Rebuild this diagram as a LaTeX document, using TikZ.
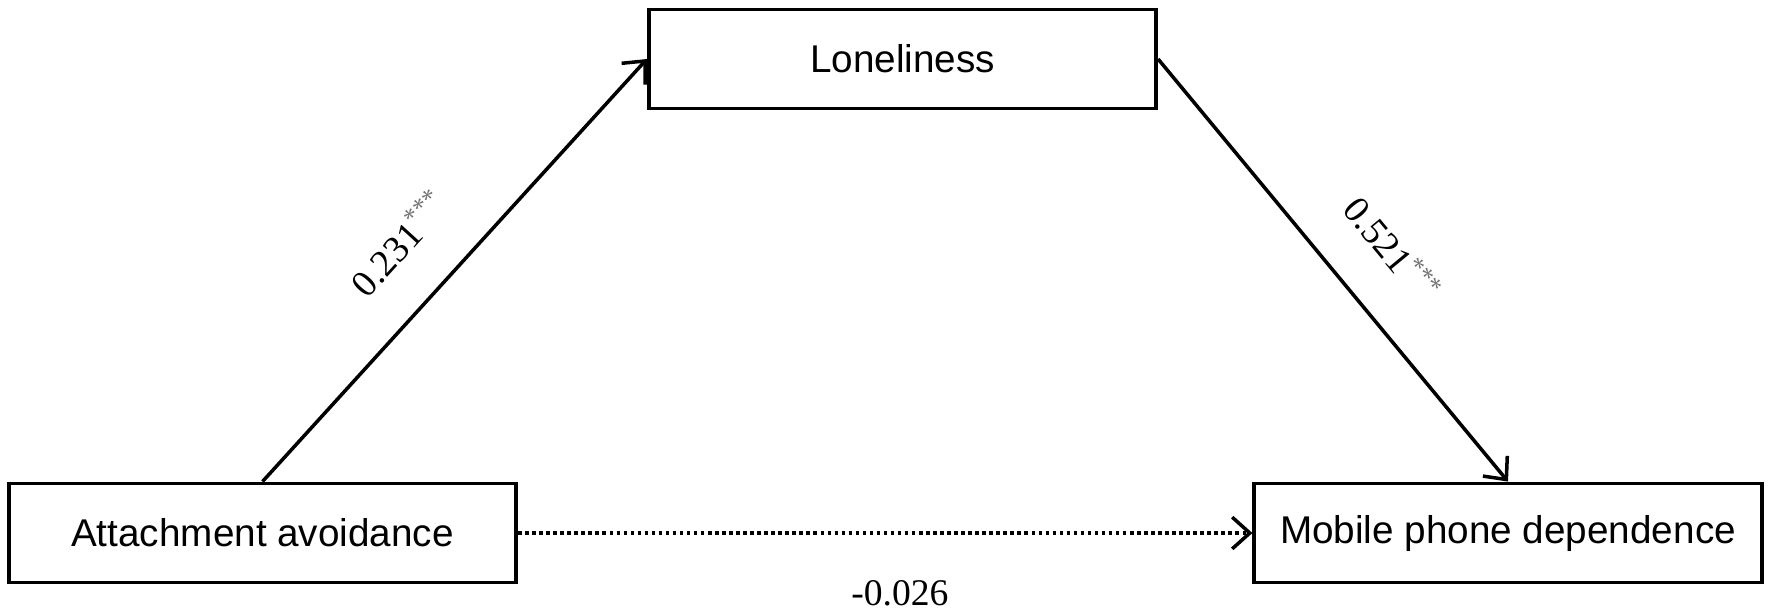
\documentclass[tikz,border=0pt]{standalone}
\usepackage{xcolor}
\usepackage{fontspec}
\setmainfont{Liberation Serif}
\setsansfont{Liberation Sans}
\usetikzlibrary{arrows.meta}

\begin{document}
\begin{tikzpicture}[x=0.01cm,y=-0.01cm]
            \tikzstyle{every node}+=[inner sep=0pt]
            \tikzstyle{var}=[draw=black, line width=1.1pt, minimum width=5.07cm, minimum height=0.99cm, font=\sffamily\fontsize{11}{13}\selectfont]
            \tikzstyle{link}=[black, line width=1pt, -{Straight Barb[length=5pt,width=9pt,line width=1pt]}]
            \tikzstyle{coef}=[font=\fontsize{10.7}{12}\selectfont]
            \useasboundingbox (0,0) rectangle (1772,614);
            \node [var] (avoid) at (262.5,533) {Attachment avoidance};
            \node [var] (lonely) at (902.5,59) {Loneliness};
            \node [var] (phone) at (1508,533) {Mobile phone dependence};
            \draw [link] (avoid.north) -- (lonely.west)
                node [coef, sloped, above=12pt, pos=0.47] {0.231\textsuperscript{\color{black!55}***}};
            \draw [link] (lonely.east) -- (phone.north)
                node [coef, sloped, above=12pt, pos=0.54] {0.521\textsuperscript{\color{black!55}***}};
            \draw [link, line width=1.2pt, dash pattern=on 1pt off 1pt] (avoid.east) -- (phone.west)
                node [coef, below=13pt, pos=0.52] {-0.026};
\end{tikzpicture}
\end{document}
